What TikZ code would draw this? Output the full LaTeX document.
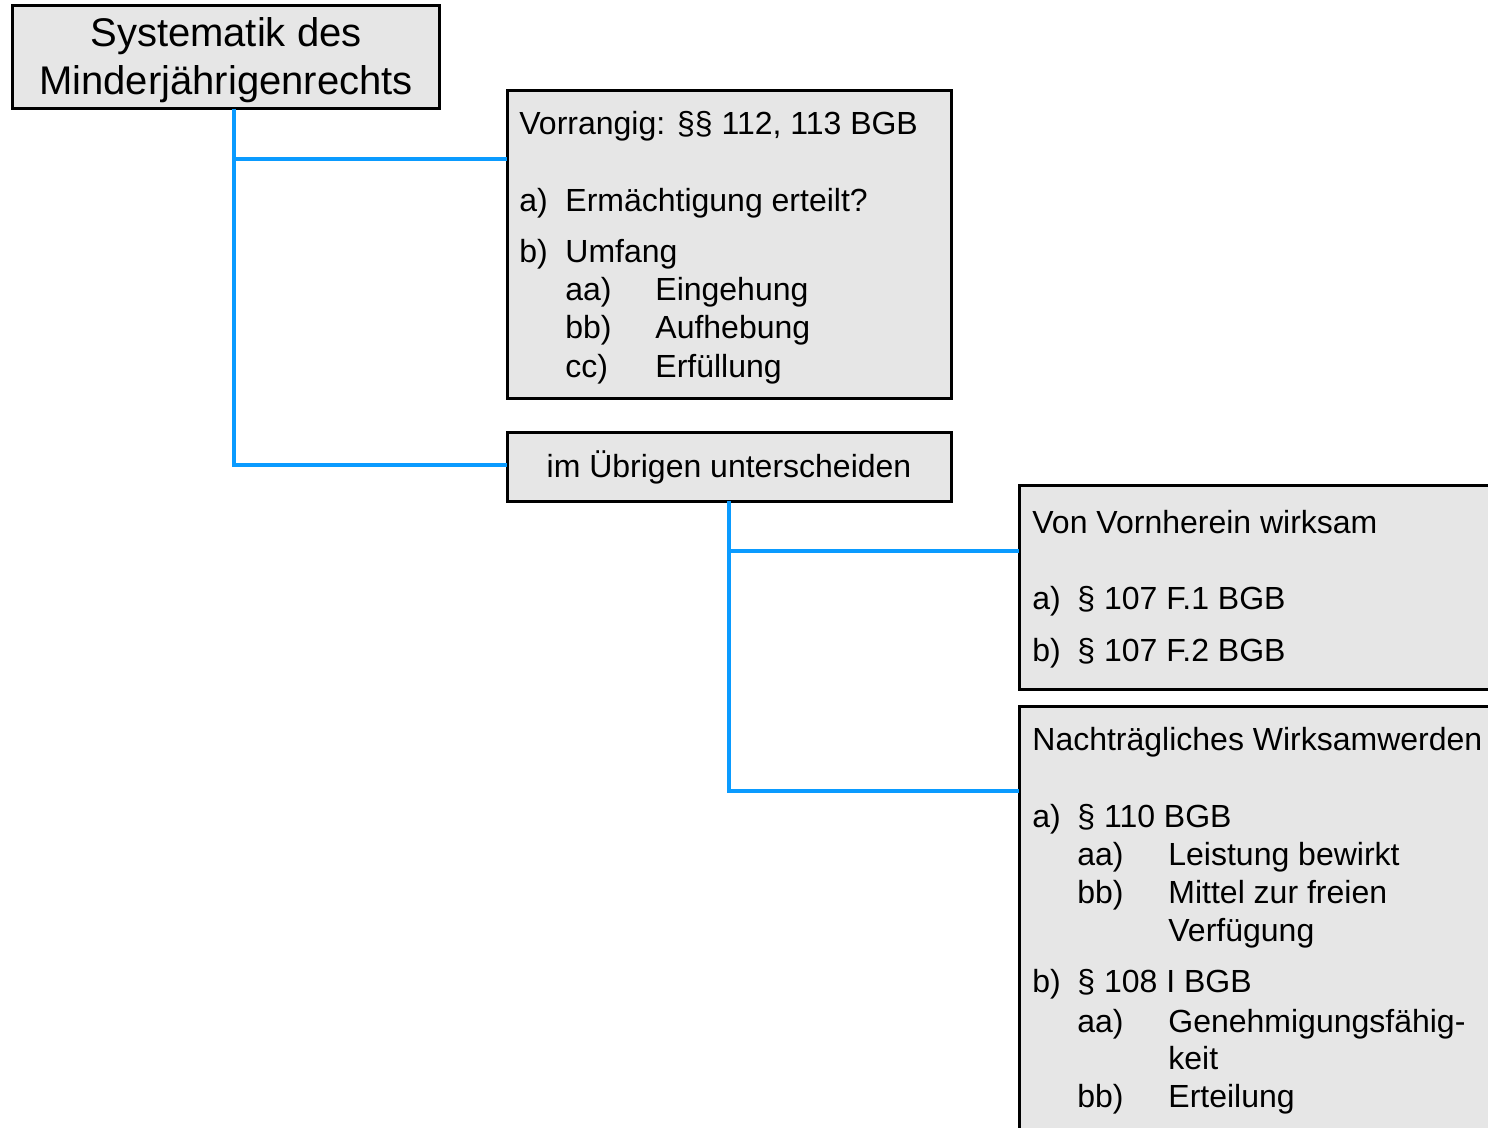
\documentclass[tikz,border=0pt]{standalone}
\usepackage{fontspec}
\setmainfont{Liberation Sans}
\definecolor{boxfill}{HTML}{E6E6E6}
\definecolor{connblue}{HTML}{0A9BFF}
\begin{document}
\begin{tikzpicture}[x=0.5pt,y=-0.5pt,
  box/.style={draw=black,line width=1.5pt,fill=boxfill,rectangle,inner sep=0pt,outer sep=0pt},
  conn/.style={draw=connblue,line width=1.9pt},
  txt/.style={inner sep=0pt,anchor=base west,font=\fontsize{16}{19.5}\selectfont},
  ttl/.style={inner sep=0pt,anchor=base,font=\fontsize{20}{24}\selectfont}]
\useasboundingbox (0,0) rectangle (1488,1128);
\clip (0,0) rectangle (1488,1128);
\fill[white] (0,0) rectangle (1488,1128);
% boxes
\node[box,minimum width=213.5pt,minimum height=51.5pt,anchor=north west] (title) at (12,6) {};
\node[box,minimum width=222pt,minimum height=154pt,anchor=north west] (vorr) at (507,91) {};
\node[box,minimum width=222pt,minimum height=34pt,anchor=north west] (im) at (507,433) {};
\node[box,minimum width=260pt,minimum height=102pt,anchor=north west] (von) at (1019,485) {};
\node[box,minimum width=260pt,minimum height=240pt,anchor=north west] (nach) at (1019,706) {};
% junctions
\coordinate (j1) at (234,159);
\coordinate (j1b) at (234,465);
\coordinate (j2) at (729,551);
\coordinate (j3) at (729,791);
% connectors
\draw[conn] (title.south -| j1) -- (j1b) -- (im.west |- j1b);
\draw[conn] (j1) -- (vorr.west |- j1);
\draw[conn] (im.south) -- (j3) -- (nach.west |- j3);
\draw[conn] (j2) -- (von.west |- j2);
% title text
\node[ttl] (t1) at (226,47) {Systematik des};
\node[ttl] (t2) at (226,95) {Minderjährigenrechts};
% Vorrangig box text
\node[txt] (v0) at (519,135) {Vorrangig: §§ 112, 113 BGB};
\node[txt] (v1a) at (519,212) {a)};
\node[txt] (v1b) at (565,212) {Ermächtigung erteilt?};
\node[txt] (v2a) at (519,263) {b)};
\node[txt] (v2b) at (565,263) {Umfang};
\node[txt] (v3a) at (565,301) {aa)};
\node[txt] (v3b) at (655,301) {Eingehung};
\node[txt] (v4a) at (565,339) {bb)};
\node[txt] (v4b) at (655,339) {Aufhebung};
\node[txt] (v5a) at (565,378) {cc)};
\node[txt] (v5b) at (655,378) {Erfüllung};
% im Uebrigen
\node[txt,anchor=base] (i0) at (729,477) {im Übrigen unterscheiden};
% Von Vornherein
\node[txt] (w0) at (1032,533) {Von Vornherein wirksam};
\node[txt] (w1a) at (1032,609) {a)};
\node[txt] (w1b) at (1077,609) {§ 107 F.1 BGB};
\node[txt] (w2a) at (1032,661) {b)};
\node[txt] (w2b) at (1077,661) {§ 107 F.2 BGB};
% Nachtraegliches
\node[txt] (n0) at (1032,750) {Nachträgliches Wirksamwerden};
\node[txt] (n1a) at (1032,827) {a)};
\node[txt] (n1b) at (1077,827) {§ 110 BGB};
\node[txt] (n2a) at (1077,865) {aa)};
\node[txt] (n2b) at (1168,865) {Leistung bewirkt};
\node[txt] (n3a) at (1077,903) {bb)};
\node[txt] (n3b) at (1168,903) {Mittel zur freien};
\node[txt] (n3c) at (1168,941) {Verfügung};
\node[txt] (n4a) at (1032,992) {b)};
\node[txt] (n4b) at (1077,992) {§ 108 I BGB};
\node[txt] (n5a) at (1077,1032) {aa)};
\node[txt] (n5b) at (1168,1032) {Genehmigungsfähig-};
\node[txt] (n5c) at (1168,1069) {keit};
\node[txt] (n6a) at (1077,1107) {bb)};
\node[txt] (n6b) at (1168,1107) {Erteilung};
\end{tikzpicture}
\end{document}
